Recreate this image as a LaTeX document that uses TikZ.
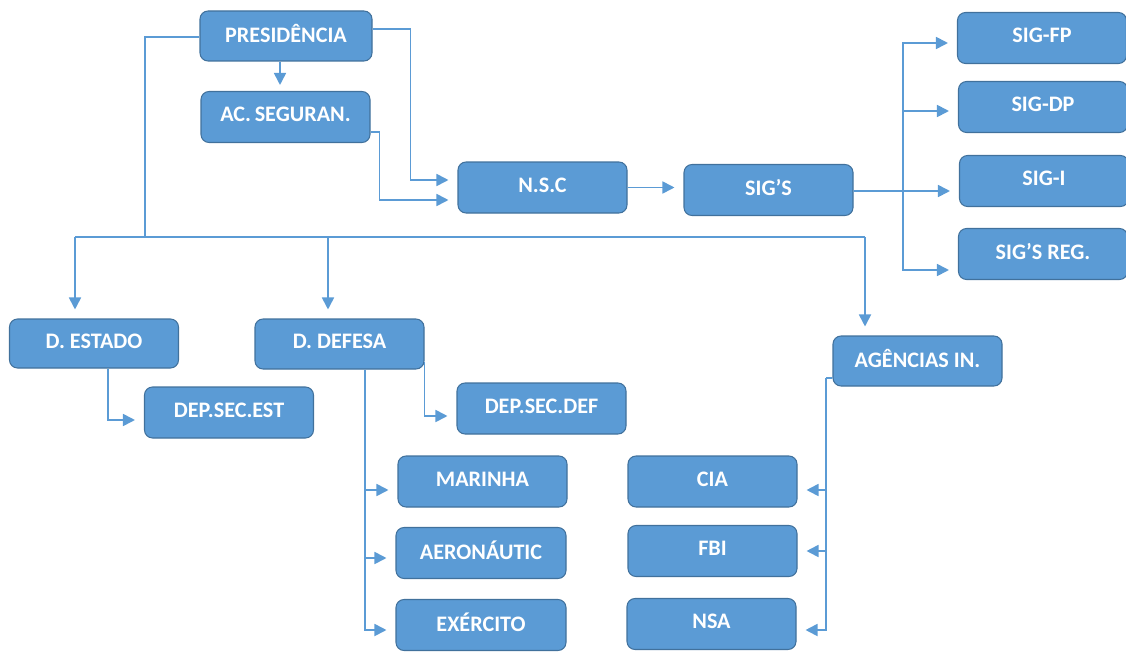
\documentclass[tikz,border=0pt]{standalone}
\usepackage{fontspec}
\setmainfont{Carlito}
\usepackage{tikz}
\usetikzlibrary{shapes.geometric, arrows.meta}
\definecolor{boxblue}{HTML}{5B9BD5}
\definecolor{boxedge}{HTML}{41719C}
\tikzstyle{orgbox} = [rectangle, rounded corners=0.16cm, minimum width=3.38cm, minimum height=1.02cm, text centered, draw=boxedge, line width=0.6pt, fill=boxblue, text=white, font=\bfseries\fontsize{12.6}{14}\selectfont, text depth=2.8pt]
\tikzstyle{line} = [draw=boxblue, line width=1pt]
\tikzstyle{arrow} = [line, -{Triangle[length=2.4mm,width=2.4mm]}, shorten >=0.18cm]

\begin{document}
\begin{tikzpicture}
	\useasboundingbox (0,0) rectangle (22.52,-13.02);

	\node (pres) [orgbox, minimum width=3.44cm, minimum height=1.0cm] at (5.72,-0.72) {PRESIDÊNCIA};
	\node (acseg) [orgbox] at (5.71,-2.34) {AC.\,SEGURAN.};
	\node (nsc) [orgbox] at (10.85,-3.75) {N.S.C};
	\node (sigs) [orgbox] at (15.37,-3.80) {SIG’S};
	\node (sigfp) [orgbox] at (20.84,-0.76) {SIG-FP};
	\node (sigdp) [orgbox] at (20.86,-2.14) {SIG-DP};
	\node (sigi) [orgbox] at (20.88,-3.62) {SIG-I};
	\node (sigreg) [orgbox] at (20.86,-5.08) {SIG’S REG.};
	\node (dest) [orgbox, minimum height=0.98cm] at (1.88,-6.87) {D. ESTADO};
	\node (ddef) [orgbox, minimum height=1.0cm] at (6.79,-6.88) {D. DEFESA};
	\node (dsecest) [orgbox] at (4.58,-8.25) {DEP.SEC.EST};
	\node (dsecdef) [orgbox] at (10.83,-8.17) {DEP.SEC.DEF};
	\node (marinha) [orgbox] at (9.65,-9.63) {MARINHA};
	\node (aero) [orgbox, minimum width=3.40cm] at (9.62,-11.06) {AERONÁUTIC};
	\node (exerc) [orgbox, minimum width=3.40cm] at (9.62,-12.50) {EXÉRCITO};
	\node (agenc) [orgbox, minimum height=1.0cm] at (18.35,-7.22) {AGÊNCIAS IN.};
	\node (cia) [orgbox] at (14.25,-9.63) {CIA};
	\node (fbi) [orgbox] at (14.25,-11.02) {FBI};
	\node (nsa) [orgbox] at (14.23,-12.48) {NSA};

	\coordinate (bus) at (2.90,-4.74);
	\coordinate (busL) at (1.50,-4.74);
	\coordinate (busM) at (6.56,-4.74);
	\coordinate (busR) at (17.30,-4.74);
	\coordinate (sigbus) at (18.06,-3.82);
	\coordinate (defbus) at ([xshift=5.1mm]ddef.south);
	\coordinate (agbus) at (16.52,-7.56);

	\draw [line] ([yshift=-0.2mm]pres.west) -| (bus);
	\draw [line] (busL) -- (busR);
	\draw [arrow] (busL) -- (busL |- dest.north);
	\draw [arrow] (busM) -- (busM |- ddef.north);
	\draw [arrow] (busR) -- (busR |- agenc.north);
	\draw [arrow, shorten >=0.12cm] ([xshift=-1.2mm]pres.south) -- ([xshift=-1.2mm]pres.south |- acseg.north);
	\draw [arrow] ([yshift=1.4mm]pres.east) -- ++(0.76,0) |- ([yshift=1.5mm]nsc.west);
	\draw [arrow] ([yshift=-3mm]acseg.east) -- ++(0.18,0) |- ([yshift=-2.5mm]nsc.west);
	\draw [arrow] (nsc.east) -- (nsc.east -| sigs.west);

	\draw [line] ([yshift=-0.2mm]sigs.east) -- (sigbus);
	\draw [arrow] (sigbus) |- ([yshift=-1mm]sigfp.west);
	\draw [arrow] (sigbus) |- ([yshift=-0.8mm]sigdp.west);
	\draw [arrow] (sigbus) -- (sigbus -| sigi.west);
	\draw [arrow] (sigbus) |- ([yshift=-3.2mm]sigreg.west);

	\draw [arrow] ([xshift=2.8mm]dest.south) |- ([yshift=-1.5mm]dsecest.west);
	\draw [arrow] ([yshift=1.5mm]ddef.south east) |- ([yshift=-1.5mm]dsecdef.west);
	\draw [arrow] (defbus) |- ([yshift=-1.7mm]marinha.west);
	\draw [arrow] (defbus) |- ([yshift=-1mm]aero.west);
	\draw [arrow] (defbus) |- ([yshift=-1mm]exerc.west);

	\draw [line] ([yshift=-3.4mm]agenc.west) -- (agbus);
	\draw [arrow] (agbus) |- ([yshift=-1.7mm]cia.east);
	\draw [arrow] (agbus) |- (fbi.east);
	\draw [arrow] (agbus) |- ([yshift=-1.2mm]nsa.east);

\end{tikzpicture}
\end{document}
